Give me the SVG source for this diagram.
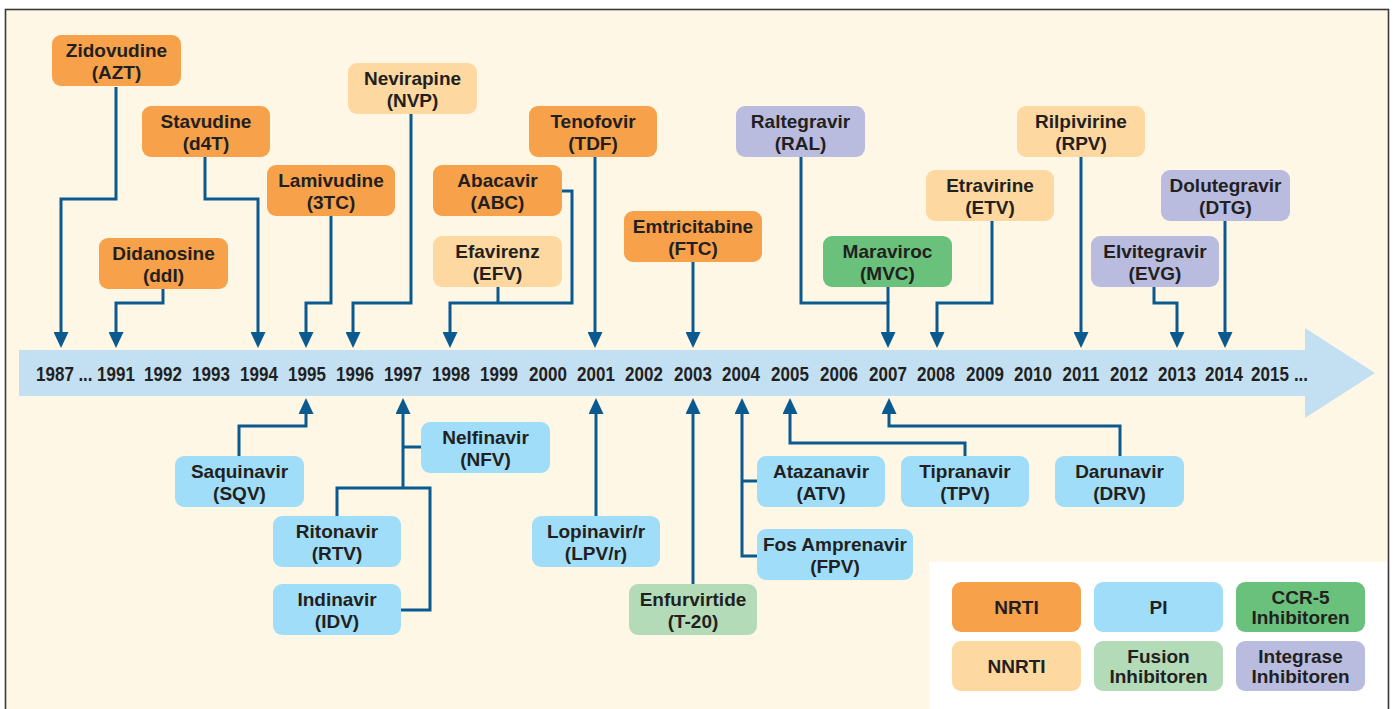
<svg xmlns="http://www.w3.org/2000/svg" width="1395" height="709" viewBox="0 0 1395 709">
<defs>
<style>
.frame{fill:#FEF7E6;stroke:#3a3a3a;stroke-width:1.6}
.box{stroke:none}
.nrti{fill:#F7A14A}
.nnrti{fill:#FDD9A1}
.pi{fill:#A0DDF8}
.ccr5{fill:#69C17B}
.fus{fill:#B4DBB8}
.intg{fill:#B9BCDF}
.t{font-family:"Liberation Sans",Arial,sans-serif;font-weight:bold;font-size:19px;fill:#231F20;text-anchor:middle}
.yr{font-family:"Liberation Sans",Arial,sans-serif;font-weight:bold;font-size:17px;fill:#231F20;text-anchor:middle}
.c{fill:none;stroke:#0B5A8F;stroke-width:3}
.cd{fill:none;stroke:#0B5A8F;stroke-width:3;marker-end:url(#ah)}
</style>
<marker id="ah" viewBox="0 0 16 15" refX="0" refY="7.5" markerWidth="16" markerHeight="15" markerUnits="userSpaceOnUse" orient="auto">
<path d="M0,0 L16,7.5 L0,15 z" fill="#0B5A8F"/>
</marker>
</defs>
<rect class="frame" x="5.5" y="9.5" width="1383" height="720"/>

<g id="timeline">
<path d="M19,350 H1305 V328 L1375,373 L1305,418 V396 H19 Z" fill="#C3DFF2"/>
<g transform="translate(0,373) scale(1,1.18) translate(0,-373)">
<text class="yr" x="55" y="380">1987</text>
<text class="yr" x="85.5" y="380">...</text>
<text class="yr" x="116" y="380">1991</text>
<text class="yr" x="163" y="380">1992</text>
<text class="yr" x="211" y="380">1993</text>
<text class="yr" x="259" y="380">1994</text>
<text class="yr" x="307" y="380">1995</text>
<text class="yr" x="355" y="380">1996</text>
<text class="yr" x="403" y="380">1997</text>
<text class="yr" x="451" y="380">1998</text>
<text class="yr" x="499" y="380">1999</text>
<text class="yr" x="548" y="380">2000</text>
<text class="yr" x="596" y="380">2001</text>
<text class="yr" x="644" y="380">2002</text>
<text class="yr" x="693" y="380">2003</text>
<text class="yr" x="741" y="380">2004</text>
<text class="yr" x="790" y="380">2005</text>
<text class="yr" x="839" y="380">2006</text>
<text class="yr" x="888" y="380">2007</text>
<text class="yr" x="936" y="380">2008</text>
<text class="yr" x="985" y="380">2009</text>
<text class="yr" x="1033" y="380">2010</text>
<text class="yr" x="1081" y="380">2011</text>
<text class="yr" x="1129" y="380">2012</text>
<text class="yr" x="1177" y="380">2013</text>
<text class="yr" x="1224" y="380">2014</text>
<text class="yr" x="1270" y="380">2015</text>
<text class="yr" x="1301" y="380">...</text>
</g>
</g>

<g id="connectors">
<path class="cd" d="M116,87 V199 H61 V332"/>
<path class="cd" d="M205,157 V199 H258 V332"/>
<path class="cd" d="M163,289 V303 H116 V332"/>
<path class="cd" d="M331,216 V303 H306 V332"/>
<path class="cd" d="M411,114 V303 H353 V332"/>
<path class="cd" d="M562,191 H572 V303 H450 V332"/>
<path class="c" d="M498,287 V303"/>
<path class="cd" d="M595,157 V332"/>
<path class="cd" d="M693,262 V332"/>
<path class="cd" d="M801,157 V303 H888 V332"/>
<path class="c" d="M888,287 V303"/>
<path class="cd" d="M992,221 V303 H937 V332"/>
<path class="cd" d="M1081,157 V332"/>
<path class="cd" d="M1154,287 V303 H1177 V332"/>
<path class="cd" d="M1225,221 V332"/>

<path class="cd" d="M239,456 V426 H306 V414"/>
<path class="c" d="M337,516 V488 H430 V610 H401"/>
<path class="cd" d="M403,488 V414"/>
<path class="c" d="M403,447 H421"/>
<path class="cd" d="M596,516 V414"/>
<path class="cd" d="M693,584 V414"/>
<path class="cd" d="M757,556 H742 V414"/>
<path class="c" d="M742,481 H757"/>
<path class="cd" d="M965,456 V443 H790 V414"/>
<path class="cd" d="M1120,456 V426 H889 V414"/>
</g>

<g id="azt"><rect class="box nrti" x="52" y="35" width="129" height="51" rx="9"/><text class="t" x="116.5" y="57">Zidovudine</text><text class="t" x="116.5" y="79">(AZT)</text></g>
<g id="d4t"><rect class="box nrti" x="142" y="106" width="128" height="51" rx="9"/><text class="t" x="206" y="128">Stavudine</text><text class="t" x="206" y="150">(d4T)</text></g>
<g id="ddi"><rect class="box nrti" x="99" y="238" width="129" height="51" rx="9"/><text class="t" x="163.5" y="260">Didanosine</text><text class="t" x="163.5" y="282">(ddI)</text></g>
<g id="3tc"><rect class="box nrti" x="267" y="165" width="128" height="51" rx="9"/><text class="t" x="331" y="187">Lamivudine</text><text class="t" x="331" y="209">(3TC)</text></g>
<g id="nvp"><rect class="box nnrti" x="348" y="63" width="129" height="51" rx="9"/><text class="t" x="412.5" y="85">Nevirapine</text><text class="t" x="412.5" y="107">(NVP)</text></g>
<g id="abc"><rect class="box nrti" x="433" y="165" width="129" height="51" rx="9"/><text class="t" x="497.5" y="187">Abacavir</text><text class="t" x="497.5" y="209">(ABC)</text></g>
<g id="efv"><rect class="box nnrti" x="433" y="236" width="129" height="51" rx="9"/><text class="t" x="497.5" y="258">Efavirenz</text><text class="t" x="497.5" y="280">(EFV)</text></g>
<g id="tdf"><rect class="box nrti" x="529" y="106" width="128" height="51" rx="9"/><text class="t" x="593" y="128">Tenofovir</text><text class="t" x="593" y="150">(TDF)</text></g>
<g id="ftc"><rect class="box nrti" x="624" y="211" width="138" height="51" rx="9"/><text class="t" x="693" y="233">Emtricitabine</text><text class="t" x="693" y="255">(FTC)</text></g>
<g id="ral"><rect class="box intg" x="736" y="106" width="129" height="51" rx="9"/><text class="t" x="800.5" y="128">Raltegravir</text><text class="t" x="800.5" y="150">(RAL)</text></g>
<g id="mvc"><rect class="box ccr5" x="823" y="236" width="129" height="51" rx="9"/><text class="t" x="887.5" y="258">Maraviroc</text><text class="t" x="887.5" y="280">(MVC)</text></g>
<g id="etv"><rect class="box nnrti" x="926" y="170" width="128" height="51" rx="9"/><text class="t" x="990" y="192">Etravirine</text><text class="t" x="990" y="214">(ETV)</text></g>
<g id="rpv"><rect class="box nnrti" x="1017" y="106" width="128" height="51" rx="9"/><text class="t" x="1081" y="128">Rilpivirine</text><text class="t" x="1081" y="150">(RPV)</text></g>
<g id="dtg"><rect class="box intg" x="1161" y="170" width="129" height="51" rx="9"/><text class="t" x="1225.5" y="192">Dolutegravir</text><text class="t" x="1225.5" y="214">(DTG)</text></g>
<g id="evg"><rect class="box intg" x="1091" y="236" width="128" height="51" rx="9"/><text class="t" x="1155" y="258">Elvitegravir</text><text class="t" x="1155" y="280">(EVG)</text></g>

<g id="sqv"><rect class="box pi" x="175" y="456" width="129" height="51" rx="9"/><text class="t" x="239.5" y="478">Saquinavir</text><text class="t" x="239.5" y="500">(SQV)</text></g>
<g id="nfv"><rect class="box pi" x="421" y="422" width="129" height="51" rx="9"/><text class="t" x="485.5" y="444">Nelfinavir</text><text class="t" x="485.5" y="466">(NFV)</text></g>
<g id="rtv"><rect class="box pi" x="273" y="516" width="128" height="51" rx="9"/><text class="t" x="337" y="538">Ritonavir</text><text class="t" x="337" y="560">(RTV)</text></g>
<g id="idv"><rect class="box pi" x="273" y="584" width="128" height="51" rx="9"/><text class="t" x="337" y="606">Indinavir</text><text class="t" x="337" y="628">(IDV)</text></g>
<g id="lpv"><rect class="box pi" x="532" y="516" width="128" height="51" rx="9"/><text class="t" x="596" y="538">Lopinavir/r</text><text class="t" x="596" y="560">(LPV/r)</text></g>
<g id="t20"><rect class="box fus" x="629" y="584" width="128" height="51" rx="9"/><text class="t" x="693" y="606">Enfurvirtide</text><text class="t" x="693" y="628">(T-20)</text></g>
<g id="atv"><rect class="box pi" x="757" y="456" width="128" height="51" rx="9"/><text class="t" x="821" y="478">Atazanavir</text><text class="t" x="821" y="500">(ATV)</text></g>
<g id="fpv"><rect class="box pi" x="757" y="529" width="156" height="51" rx="9"/><text class="t" x="835" y="551">Fos Amprenavir</text><text class="t" x="835" y="573">(FPV)</text></g>
<g id="tpv"><rect class="box pi" x="901" y="456" width="128" height="51" rx="9"/><text class="t" x="965" y="478">Tipranavir</text><text class="t" x="965" y="500">(TPV)</text></g>
<g id="drv"><rect class="box pi" x="1055" y="456" width="129" height="51" rx="9"/><text class="t" x="1119.5" y="478">Darunavir</text><text class="t" x="1119.5" y="500">(DRV)</text></g>

<g id="legend">
<rect x="929" y="562" width="458" height="150" fill="#FFFFFF"/>
<g id="lg-nrti"><rect class="box nrti" x="952" y="582" width="129" height="50" rx="9"/><text class="t" x="1016.5" y="614">NRTI</text></g>
<g id="lg-pi"><rect class="box pi" x="1094" y="582" width="129" height="50" rx="9"/><text class="t" x="1158.5" y="614">PI</text></g>
<g id="lg-ccr5"><rect class="box ccr5" x="1236" y="582" width="129" height="50" rx="9"/><text class="t" x="1300.5" y="604">CCR-5</text><text class="t" x="1300.5" y="624">Inhibitoren</text></g>
<g id="lg-nnrti"><rect class="box nnrti" x="952" y="641" width="129" height="50" rx="9"/><text class="t" x="1016.5" y="673">NNRTI</text></g>
<g id="lg-fus"><rect class="box fus" x="1094" y="641" width="129" height="50" rx="9"/><text class="t" x="1158.5" y="663">Fusion</text><text class="t" x="1158.5" y="683">Inhibitoren</text></g>
<g id="lg-intg"><rect class="box intg" x="1236" y="641" width="129" height="50" rx="9"/><text class="t" x="1300.5" y="663">Integrase</text><text class="t" x="1300.5" y="683">Inhibitoren</text></g>
</g>
</svg>
